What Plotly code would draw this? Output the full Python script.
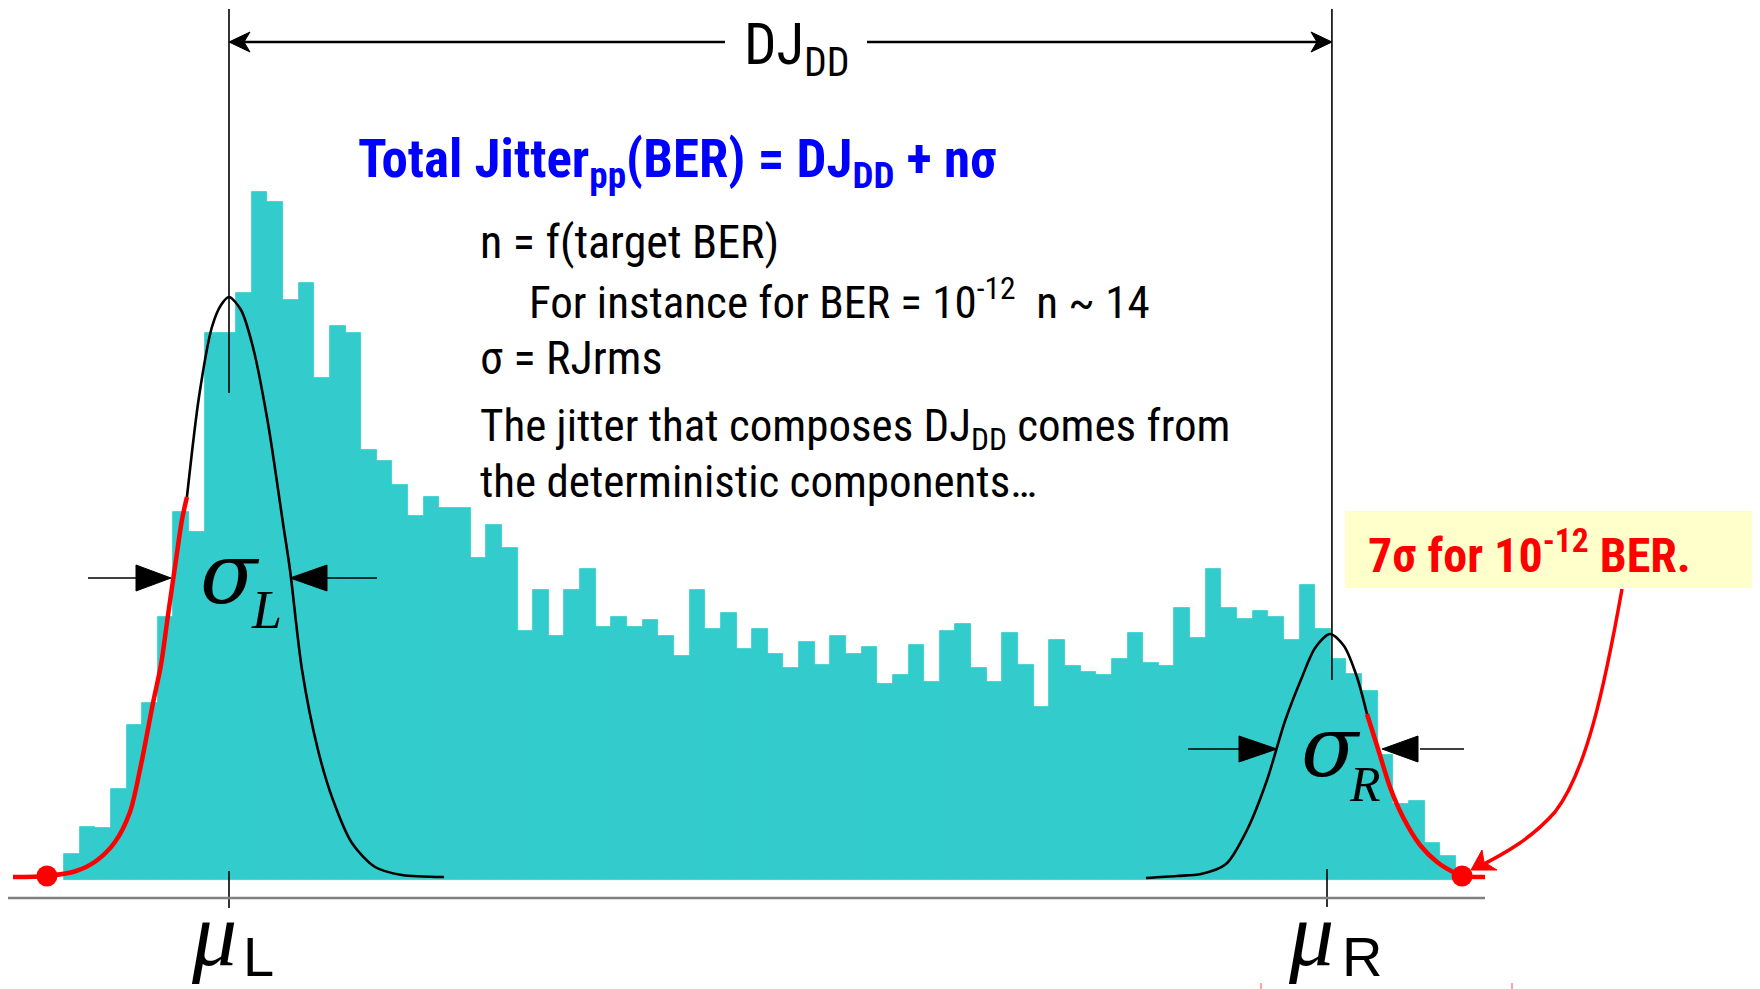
import plotly.graph_objects as go

W, H = 1752, 981   # page body has an 8px margin; window is 1760x989

# ---------------- data ----------------
bins = list(range(1, 90))
counts = [26, 53, 52, 91, 155, 177, 263, 368, 348, 547, 547, 587, 688, 678, 580, 597, 502, 554, 547, 430, 419, 395, 364,
          383, 372, 372, 322, 355, 332, 249, 290, 244, 290, 311, 253, 263, 253, 260, 244, 224, 290, 251, 267, 231, 251, 226,
          212, 238, 215, 244, 226, 233, 196, 205, 235, 198, 249, 256, 212, 198, 247, 215, 173, 240, 214, 208, 205, 221, 247,
          217, 214, 272, 242, 311, 272, 261, 269, 263, 240, 295, 251, 221, 206, 189, 125, 76, 79, 37, 24]

left_red_x = [-2.76, -0.59, 1.27, 2.55, 3.76, 4.72, 5.42, 6.19, 6.70, 7.15, 7.66, 8.04, 8.36]
left_red_y = [3, 4, 9, 19, 38, 68, 115, 177, 215, 265, 320, 360, 383]
left_black_x = [8.36, 9.13, 9.96, 10.54, 11.05, 11.82, 12.58, 13.54, 14.50, 14.95, 15.72, 16.74, 17.70, 18.91, 20.39, 22.11, 24.80]
left_black_y = [383, 483, 553, 575, 583, 570, 533, 457, 357, 310, 210, 130, 80, 37, 13, 5, 3]

right_black_x = [69.68, 71.66, 73.20, 74.80, 76.14, 77.42, 78.57, 79.66, 80.49, 81.45, 82.34, 83.17, 83.81]
right_black_y = [2, 4, 6, 16, 50, 100, 159, 203, 232, 246, 234, 203, 166]
right_red_x = [83.81, 84.52, 85.28, 86.11, 87.20, 88.29, 89.31, 89.89, 91.36]
right_red_y = [166, 131, 93, 63, 35, 18, 8, 4, 3]

ber_x = [-0.59, 89.89]
ber_y = [4, 4]

mu_L = 11.05
mu_R = 81.57


def X(px):
    return (px - 64) / 15.64 + 0.5


def Y(py):
    return 880 - py


TEAL = "#33CCCC"
NARROW = "Roboto Condensed, Liberation Sans Narrow, Arial Narrow, sans-serif"
SERIF = "DejaVu Serif, Liberation Serif, serif"
SANS = "Liberation Sans, Arial, sans-serif"

fig = go.Figure()
fig.add_trace(go.Bar(x=bins, y=counts, width=1, marker=dict(color=TEAL, line=dict(color=TEAL, width=0.8)),
                     hoverinfo="skip"))
fig.add_trace(go.Scatter(x=left_black_x, y=left_black_y, mode="lines",
                         line=dict(color="black", width=2.6, shape="spline", smoothing=0.8)))
fig.add_trace(go.Scatter(x=left_red_x, y=left_red_y, mode="lines",
                         line=dict(color="#FF0000", width=4.5, shape="spline", smoothing=0.8)))
fig.add_trace(go.Scatter(x=right_black_x, y=right_black_y, mode="lines",
                         line=dict(color="black", width=2.6, shape="spline", smoothing=0.8)))
fig.add_trace(go.Scatter(x=right_red_x, y=right_red_y, mode="lines",
                         line=dict(color="#FF0000", width=4.5, shape="spline", smoothing=0.8)))
fig.add_trace(go.Scatter(x=ber_x, y=ber_y, mode="markers", marker=dict(color="#FF0000", size=21)))

shapes = []


def vline(x, py0, py1, w=1.6, color="black"):
    shapes.append(dict(type="line", xref="x", yref="y", x0=x, x1=x, y0=Y(py0), y1=Y(py1),
                       line=dict(color=color, width=w)))


def hline(px0, px1, py, w=1.6, color="black"):
    shapes.append(dict(type="line", xref="x", yref="y", x0=X(px0), x1=X(px1), y0=Y(py), y1=Y(py),
                       line=dict(color=color, width=w)))


def poly(pts, color="black"):
    path = "M " + " L ".join("{},{}".format(X(a), Y(b)) for a, b in pts) + " Z"
    shapes.append(dict(type="path", xref="x", yref="y", path=path, fillcolor=color,
                       line=dict(color=color, width=1)))


def tri(tip, base, py, half=13):
    poly([(base, py - half), (tip, py), (base, py + half)])


vline(mu_L, 9, 393)
vline(mu_L, 871, 908)
vline(mu_R, 9, 680)
vline(X(1327), 869, 907)
hline(8, 1485, 898, w=2.5, color="#808080")

# DJ span with barbed arrowheads
hline(232, 725, 42, w=2.6)
hline(867, 1329, 42, w=2.6)
poly([(229, 42), (250, 32), (244, 42), (250, 52)])
poly([(1332, 42), (1311, 32), (1317, 42), (1311, 52)])

# sigma arrows
hline(88, 140, 578)
tri(171, 136, 578)
hline(325, 377, 578)
tri(290, 327, 578)
hline(1188, 1240, 749)
tri(1277, 1239, 749)
hline(1420, 1464, 749)
tri(1382, 1418, 749)

shapes.append(dict(type="rect", xref="x", yref="y", x0=X(1345), x1=X(1770), y0=Y(588), y1=Y(511),
                   fillcolor="#FFFFCC", line=dict(width=0), layer="below"))

p = "M {},{} C {},{} {},{} {},{} C {},{} {},{} {},{}".format(
    X(1622), Y(589), X(1604), Y(690), X(1586), Y(772), X(1555), Y(812),
    X(1532), Y(838), X(1506), Y(853), X(1478), Y(867))
shapes.append(dict(type="path", xref="x", yref="y", path=p, line=dict(color="#FF0000", width=3.5)))
poly([(1471, 870), (1482, 850), (1484, 862), (1497, 870)], color="#FF0000")

vline(X(1261), 983, 992, w=1.2, color="#FF6666")
vline(X(1512), 983, 992, w=1.2, color="#FF6666")

ann = []


def text(px, py, s, size, color="black", family=NARROW, xanchor="left", yanchor="middle"):
    ann.append(dict(x=X(px), y=Y(py), xref="x", yref="y", text=s, showarrow=False,
                    xanchor=xanchor, yanchor=yanchor,
                    font=dict(size=size, color=color, family=family)))


text(742, 48, "DJ<sub>DD</sub>", 57)
text(356, 162, "<b>Total Jitter<sub>pp</sub>(BER) = DJ<sub>DD</sub> + nσ</b>", 53, color="#0000FF")
text(478, 242, "n = f(target BER)", 46)
text(527, 299, "For instance for BER = 10<sup>-12</sup>\u00a0\u00a0n ~ 14", 45)
text(478, 358, "σ = RJrms", 46)
text(478, 428, "The jitter that composes DJ<sub>DD</sub> comes from", 45)
text(478, 481, "the deterministic components\u2026", 45)
text(1366, 552, "<b>7σ for 10<sup>-12</sup> BER.</b>", 48, color="#FF0000")

text(230, 574, "<i>σ</i>", 84, family=SERIF, xanchor="center")
text(266, 610, "<i>L</i>", 54, family="Liberation Serif, serif", xanchor="center")
text(1331, 747, "<i>σ</i>", 84, family=SERIF, xanchor="center")
text(1365, 784, "<i>R</i>", 50, family="Liberation Serif, serif", xanchor="center")
text(214, 934, "<i>μ</i>", 90, family="Liberation Serif, serif", xanchor="center")
text(258, 956, "L", 56, family=SANS, xanchor="center")
text(1311, 934, "<i>μ</i>", 90, family="Liberation Serif, serif", xanchor="center")
text(1362, 956, "R", 56, family=SANS, xanchor="center")

fig.update_layout(
    width=W, height=H,
    margin=dict(l=0, r=0, t=0, b=0),
    paper_bgcolor="white", plot_bgcolor="white",
    showlegend=False, bargap=0,
    xaxis=dict(range=[X(8), X(8 + W)], visible=False, fixedrange=True),
    yaxis=dict(range=[Y(8 + H), Y(8)], visible=False, fixedrange=True),
    shapes=shapes, annotations=ann,
)

fig.write_html("out.html")
